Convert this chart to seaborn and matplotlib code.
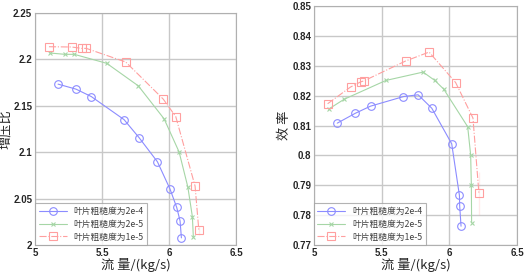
import numpy as np
import pandas as pd
import matplotlib
matplotlib.use("Agg")
import matplotlib.pyplot as plt
import seaborn as sns

# 增压比 (pressure ratio) data
pr_flow_2e4 = [5.172, 5.306, 5.420, 5.664, 5.776, 5.913, 6.007, 6.057, 6.082, 6.092]
pr_val_2e4 = [2.1733, 2.1679, 2.1599, 2.1351, 2.1157, 2.0897, 2.0603, 2.0405, 2.0260, 2.0077]
pr_flow_2e5 = [5.112, 5.224, 5.293, 5.535, 5.771, 5.963, 6.075, 6.140, 6.174, 6.181]
pr_val_2e5 = [2.2068, 2.2054, 2.2054, 2.1957, 2.1714, 2.1359, 2.1002, 2.0625, 2.0304, 2.0088]
pr_flow_1e5 = [5.104, 5.274, 5.349, 5.383, 5.677, 5.957, 6.050, 6.194, 6.222, 6.222]
pr_val_1e5 = [2.2136, 2.2133, 2.2118, 2.2118, 2.1971, 2.1571, 2.1383, 2.0635, 2.0206, 2.0113]

# 效率 (efficiency) data
ef_flow_2e4 = [5.172, 5.305, 5.418, 5.661, 5.769, 5.870, 6.017, 6.074, 6.076, 6.086]
ef_val_2e4 = [0.8108, 0.8141, 0.8165, 0.8197, 0.8203, 0.8158, 0.8039, 0.7866, 0.7830, 0.7763]
ef_flow_2e5 = [5.108, 5.223, 5.531, 5.806, 5.892, 5.958, 6.135, 6.157, 6.162, 6.164]
ef_val_2e5 = [0.8155, 0.8188, 0.8251, 0.8279, 0.8251, 0.8222, 0.8096, 0.8001, 0.7900, 0.7775]
ef_flow_1e5 = [5.101, 5.270, 5.344, 5.371, 5.676, 5.850, 6.046, 6.174, 6.218, 6.218]
ef_val_1e5 = [0.8173, 0.8229, 0.8246, 0.8250, 0.8316, 0.8346, 0.8244, 0.8125, 0.7945, 0.7800]

labels = ["叶片粗糙度为2e-4", "叶片粗糙度为2e-5", "叶片粗糙度为1e-5"]
x_ticks = [5, 5.5, 6, 6.5]
pr_ticks = [2, 2.05, 2.1, 2.15, 2.2, 2.25]
ef_ticks = [0.77, 0.78, 0.79, 0.8, 0.81, 0.82, 0.83, 0.84, 0.85]

sns.set_style("whitegrid")
plt.rcParams['font.family'] = ['Liberation Sans', 'Noto Sans CJK SC', 'DejaVu Sans']

colors = ['#8c8cff', '#a6d6a6', '#ff9f9f']
styles = [dict(marker='o', markersize=5.5, linestyle='-', linewidth=0.8, markerfacecolor='none', markeredgewidth=0.8),
          dict(marker='x', markersize=2.2, linestyle='-', linewidth=0.8, markeredgewidth=0.8),
          dict(marker='s', markersize=5.5, linestyle='-.', linewidth=0.8, markerfacecolor='none', markeredgewidth=0.8)]

fig = plt.figure(figsize=(5.25, 2.74), dpi=100)
ax1 = fig.add_axes([0.0667, 0.1058, 0.383, 0.847])
ax2 = fig.add_axes([0.598, 0.1058, 0.387, 0.872])


def draw(ax, flows, vals, yticks, ylabel):
    for flow, val, lab, c, st in zip(flows, vals, labels, colors, styles):
        df = pd.DataFrame({'flow': flow, 'val': val})
        sns.lineplot(data=df, x='flow', y='val', sort=False, ax=ax, color=c,
                     label=lab, markeredgecolor=c, **st)
    ax.set_xlim(5, 6.5)
    ax.set_ylim(yticks[0], yticks[-1])
    ax.set_xticks(x_ticks)
    ax.set_xticklabels([f"{t:g}" for t in x_ticks])
    ax.set_yticks(yticks)
    ax.set_yticklabels([f"{t:g}" for t in yticks])
    ax.tick_params(labelsize=7, pad=2, length=0)
    for lbl in ax.get_xticklabels() + ax.get_yticklabels():
        lbl.set_fontweight('bold')
    ax.grid(True, color='#c8c8c8', linewidth=1.0)
    for sp in ax.spines.values():
        sp.set_color('#b0b0b0')
        sp.set_linewidth(0.8)
    ax.set_xlabel("流 量/(kg/s)", fontsize=9.5, labelpad=0,
                  family=['Noto Sans CJK SC', 'DejaVu Sans'])
    ax.set_ylabel(ylabel, fontsize=9.5, labelpad=1,
                  family=['Noto Sans CJK SC', 'DejaVu Sans'])
    leg = ax.legend(loc='lower left', frameon=True, fancybox=False,
                    borderaxespad=0, handlelength=3.2, borderpad=0.4,
                    labelspacing=0.45, prop={'family': ['Noto Sans CJK SC'], 'size': 6.3})
    leg.get_frame().set_edgecolor('#a0a0a0')
    leg.get_frame().set_linewidth(0.8)
    for t in leg.get_texts():
        t.set_color('#404040')


draw(ax1, [pr_flow_2e4, pr_flow_2e5, pr_flow_1e5], [pr_val_2e4, pr_val_2e5, pr_val_1e5],
     pr_ticks, "增压比")
draw(ax2, [ef_flow_2e4, ef_flow_2e5, ef_flow_1e5], [ef_val_2e4, ef_val_2e5, ef_val_1e5],
     ef_ticks, "效 率")

fig.savefig("out.png", dpi=100)
